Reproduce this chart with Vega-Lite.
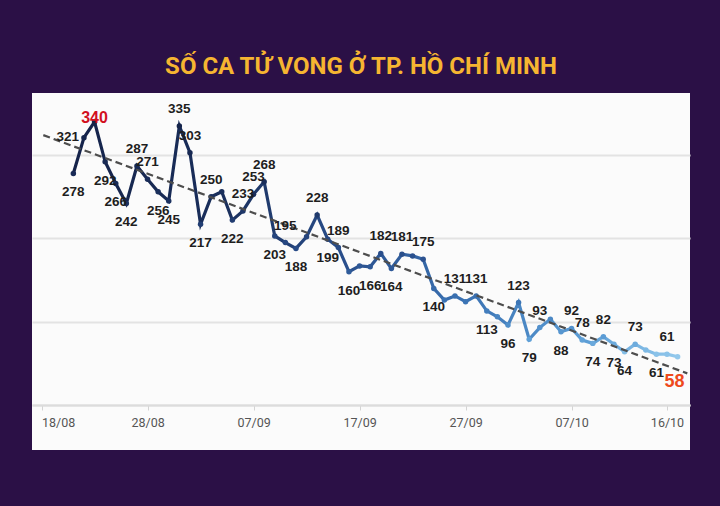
{
  "$schema": "https://vega.github.io/schema/vega-lite/v6.json",
  "width": 658,
  "height": 357,
  "autosize": {"type": "none"},
  "padding": {"left": 32, "top": 93, "right": 30, "bottom": 56},
  "background": "#2b1046",
  "title": {
    "text": "SỐ CA TỬ VONG Ở TP. HỒ CHÍ MINH",
    "color": "#f6b531",
    "font": "Roboto",
    "fontSize": 24,
    "fontWeight": "bold",
    "anchor": "middle",
    "offset": 14
  },
  "config": {"view": {"fill": "#fbfbfb", "stroke": null}},
  "datasets": {
    "deaths": [
      {"date": "2021-08-21T00:00:00", "v": 278, "t": "278"},
      {"date": "2021-08-22T00:00:00", "v": 321, "t": "321"},
      {"date": "2021-08-23T00:00:00", "v": 340, "t": "340"},
      {"date": "2021-08-24T00:00:00", "v": 292, "t": "292"},
      {"date": "2021-08-25T00:00:00", "v": 266, "t": "266"},
      {"date": "2021-08-26T00:00:00", "v": 242, "t": "242"},
      {"date": "2021-08-27T00:00:00", "v": 287, "t": "287"},
      {"date": "2021-08-28T00:00:00", "v": 271, "t": "271"},
      {"date": "2021-08-29T00:00:00", "v": 256, "t": "256"},
      {"date": "2021-08-30T00:00:00", "v": 245, "t": "245"},
      {"date": "2021-08-31T00:00:00", "v": 335, "t": "335"},
      {"date": "2021-09-01T00:00:00", "v": 303, "t": "303"},
      {"date": "2021-09-02T00:00:00", "v": 217, "t": "217"},
      {"date": "2021-09-03T00:00:00", "v": 250, "t": "250"},
      {"date": "2021-09-04T00:00:00", "v": 256, "t": ""},
      {"date": "2021-09-05T00:00:00", "v": 222, "t": "222"},
      {"date": "2021-09-06T00:00:00", "v": 233, "t": "233"},
      {"date": "2021-09-07T00:00:00", "v": 253, "t": "253"},
      {"date": "2021-09-08T00:00:00", "v": 268, "t": "268"},
      {"date": "2021-09-09T00:00:00", "v": 203, "t": "203"},
      {"date": "2021-09-10T00:00:00", "v": 195, "t": "195"},
      {"date": "2021-09-11T00:00:00", "v": 188, "t": "188"},
      {"date": "2021-09-12T00:00:00", "v": 202, "t": ""},
      {"date": "2021-09-13T00:00:00", "v": 228, "t": "228"},
      {"date": "2021-09-14T00:00:00", "v": 199, "t": "199"},
      {"date": "2021-09-15T00:00:00", "v": 189, "t": "189"},
      {"date": "2021-09-16T00:00:00", "v": 160, "t": "160"},
      {"date": "2021-09-17T00:00:00", "v": 167, "t": ""},
      {"date": "2021-09-18T00:00:00", "v": 166, "t": "166"},
      {"date": "2021-09-19T00:00:00", "v": 182, "t": "182"},
      {"date": "2021-09-20T00:00:00", "v": 164, "t": "164"},
      {"date": "2021-09-21T00:00:00", "v": 181, "t": "181"},
      {"date": "2021-09-22T00:00:00", "v": 179, "t": ""},
      {"date": "2021-09-23T00:00:00", "v": 175, "t": "175"},
      {"date": "2021-09-24T00:00:00", "v": 140, "t": "140"},
      {"date": "2021-09-25T00:00:00", "v": 126, "t": ""},
      {"date": "2021-09-26T00:00:00", "v": 131, "t": "131"},
      {"date": "2021-09-27T00:00:00", "v": 124, "t": ""},
      {"date": "2021-09-28T00:00:00", "v": 131, "t": "131"},
      {"date": "2021-09-29T00:00:00", "v": 113, "t": "113"},
      {"date": "2021-09-30T00:00:00", "v": 106, "t": ""},
      {"date": "2021-10-01T00:00:00", "v": 96, "t": "96"},
      {"date": "2021-10-02T00:00:00", "v": 123, "t": "123"},
      {"date": "2021-10-03T00:00:00", "v": 79, "t": "79"},
      {"date": "2021-10-04T00:00:00", "v": 93, "t": "93"},
      {"date": "2021-10-05T00:00:00", "v": 103, "t": ""},
      {"date": "2021-10-06T00:00:00", "v": 88, "t": "88"},
      {"date": "2021-10-07T00:00:00", "v": 92, "t": "92"},
      {"date": "2021-10-08T00:00:00", "v": 78, "t": "78"},
      {"date": "2021-10-09T00:00:00", "v": 74, "t": "74"},
      {"date": "2021-10-10T00:00:00", "v": 82, "t": "82"},
      {"date": "2021-10-11T00:00:00", "v": 73, "t": "73"},
      {"date": "2021-10-12T00:00:00", "v": 64, "t": "64"},
      {"date": "2021-10-13T00:00:00", "v": 73, "t": "73"},
      {"date": "2021-10-14T00:00:00", "v": 66, "t": ""},
      {"date": "2021-10-15T00:00:00", "v": 61, "t": "61"},
      {"date": "2021-10-16T00:00:00", "v": 61, "t": "61"},
      {"date": "2021-10-17T00:00:00", "v": 58, "t": "58"}
    ],
    "trend": [
      {"date": "2021-08-18T04:00:00", "v": 324},
      {"date": "2021-10-17T22:00:00", "v": 38}
    ]
  },
  "data": {"name": "deaths"},
  "encoding": {
    "x": {
      "field": "date",
      "type": "temporal",
      "scale": {
        "domain": [
          {"year": 2021, "month": 8, "date": 17, "hours": 2, "minutes": 24},
          {"year": 2021, "month": 10, "date": 18, "hours": 4, "minutes": 5}
        ],
        "nice": false
      },
      "axis": {
        "title": null,
        "values": [
          {"year": 2021, "month": 8, "date": 18},
          {"year": 2021, "month": 8, "date": 28},
          {"year": 2021, "month": 9, "date": 7},
          {"year": 2021, "month": 9, "date": 17},
          {"year": 2021, "month": 9, "date": 27},
          {"year": 2021, "month": 10, "date": 7},
          {"year": 2021, "month": 10, "date": 16}
        ],
        "format": "%d/%m",
        "grid": false,
        "offset": -45,
        "domainColor": "#dcdcdc",
        "domainWidth": 2,
        "tickColor": "#d4d4d4",
        "tickSize": 5,
        "labelColor": "#555555",
        "labelFont": "Roboto",
        "labelFontSize": 12.5,
        "labelPadding": 6,
        "labelFlush": false,
        "labelAlign": {"condition": {"test": "datum.value < datetime(2021, 7, 19)", "value": "left"}, "value": "center"}
      }
    },
    "y": {
      "field": "v",
      "type": "quantitative",
      "scale": {"domain": [-54, 374.6], "nice": false, "zero": false},
      "axis": {
        "title": null,
        "values": [0, 100, 200, 300],
        "labels": false,
        "ticks": false,
        "domain": false,
        "grid": true,
        "gridColor": "#e3e3e3",
        "gridWidth": 2
      }
    }
  },
  "layer": [
    {
      "mark": {
        "type": "line",
        "strokeWidth": 3.2,
        "stroke": {
          "gradient": "linear",
          "x1": 0, "y1": 0, "x2": 1, "y2": 0,
          "stops": [
            {"offset": 0, "color": "#15234a"},
            {"offset": 0.25, "color": "#1a2f5c"},
            {"offset": 0.45, "color": "#2a4f8c"},
            {"offset": 0.65, "color": "#3a72b3"},
            {"offset": 0.85, "color": "#5d9ed6"},
            {"offset": 1, "color": "#92c8ec"}
          ]
        }
      }
    },
    {
      "mark": {"type": "circle", "size": 30, "opacity": 1},
      "encoding": {
        "color": {
          "field": "v",
          "type": "quantitative",
          "legend": null,
          "scale": {
            "domain": [58, 80, 126, 180, 253, 340],
            "range": ["#92c8ec", "#5d9ed6", "#3a72b3", "#2a4f8c", "#1a2f5c", "#15234a"],
            "clamp": true
          }
        }
      }
    },
    {
      "data": {"name": "trend"},
      "mark": {"type": "line", "strokeDash": [7, 4], "color": "#4d4d4d", "strokeWidth": 2.2}
    },
    {
      "transform": [
        {"window": [{"op": "lag", "field": "v", "as": "pv"}, {"op": "lead", "field": "v", "as": "nv"}, {"op": "lead", "field": "v", "param": 2, "as": "nnv"}], "sort": [{"field": "date", "order": "ascending"}]},
        {"calculate": "datum.pv == null ? datum.v : datum.pv", "as": "p"},
        {"calculate": "datum.nv == null ? datum.v : datum.nv", "as": "n"},
        {"calculate": "datum.nnv == null ? datum.n : datum.nnv", "as": "nn"},
        {"calculate": "(datum.p + datum.n) / 2", "as": "avg"},
        {"calculate": "(datum.n - datum.v > 15 && datum.v - datum.p > 30) ? 'left' : ((datum.p < datum.v && datum.v < datum.n) || (datum.v > datum.avg - 0.6 && datum.v != datum.avg) || (datum.n < datum.v && datum.n < datum.nn && datum.v - datum.n <= 5)) ? 'up' : 'down'", "as": "pos"},
        {"filter": "datum.pos === 'up' && datum.t !== '' && datum.t !== '340' && datum.t !== '58'"}
      ],
      "mark": {"type": "text", "font": "Liberation Sans", "fontWeight": "bold", "fontSize": 13.5, "color": "#1e1e1e", "dy": -17, "baseline": "middle"},
      "encoding": {"text": {"field": "t"}}
    },
    {
      "transform": [
        {"window": [{"op": "lag", "field": "v", "as": "pv"}, {"op": "lead", "field": "v", "as": "nv"}, {"op": "lead", "field": "v", "param": 2, "as": "nnv"}], "sort": [{"field": "date", "order": "ascending"}]},
        {"calculate": "datum.pv == null ? datum.v : datum.pv", "as": "p"},
        {"calculate": "datum.nv == null ? datum.v : datum.nv", "as": "n"},
        {"calculate": "datum.nnv == null ? datum.n : datum.nnv", "as": "nn"},
        {"calculate": "(datum.p + datum.n) / 2", "as": "avg"},
        {"calculate": "(datum.n - datum.v > 15 && datum.v - datum.p > 30) ? 'left' : ((datum.p < datum.v && datum.v < datum.n) || (datum.v > datum.avg - 0.6 && datum.v != datum.avg) || (datum.n < datum.v && datum.n < datum.nn && datum.v - datum.n <= 5)) ? 'up' : 'down'", "as": "pos"},
        {"filter": "datum.pos === 'down' && datum.t !== '' && datum.t !== '340' && datum.t !== '58'"}
      ],
      "mark": {"type": "text", "font": "Liberation Sans", "fontWeight": "bold", "fontSize": 13.5, "color": "#1e1e1e", "dy": 19, "baseline": "middle"},
      "encoding": {"text": {"field": "t"}}
    },
    {
      "transform": [
        {"window": [{"op": "lag", "field": "v", "as": "pv"}, {"op": "lead", "field": "v", "as": "nv"}], "sort": [{"field": "date", "order": "ascending"}]},
        {"calculate": "datum.pv == null ? datum.v : datum.pv", "as": "p"},
        {"calculate": "datum.nv == null ? datum.v : datum.nv", "as": "n"},
        {"filter": "datum.n - datum.v > 15 && datum.v - datum.p > 30 && datum.t !== '' && datum.t !== '340' && datum.t !== '58'"}
      ],
      "mark": {"type": "text", "font": "Liberation Sans", "fontWeight": "bold", "fontSize": 13.5, "color": "#1e1e1e", "dx": -5, "dy": -1, "align": "right", "baseline": "middle"},
      "encoding": {"text": {"field": "t"}}
    },
    {
      "transform": [{"filter": "datum.t === '340'"}],
      "mark": {"type": "text", "font": "Liberation Sans", "fontWeight": "bold", "fontSize": 16, "color": "#d2101e", "dy": -4, "baseline": "middle"},
      "encoding": {"text": {"field": "t"}}
    },
    {
      "transform": [{"filter": "datum.t === '58'"}],
      "mark": {"type": "text", "font": "Liberation Sans", "fontWeight": "bold", "fontSize": 18, "color": "#ee4a1c", "dy": 25, "dx": -3, "baseline": "middle"},
      "encoding": {"text": {"field": "t"}}
    }
  ]
}
